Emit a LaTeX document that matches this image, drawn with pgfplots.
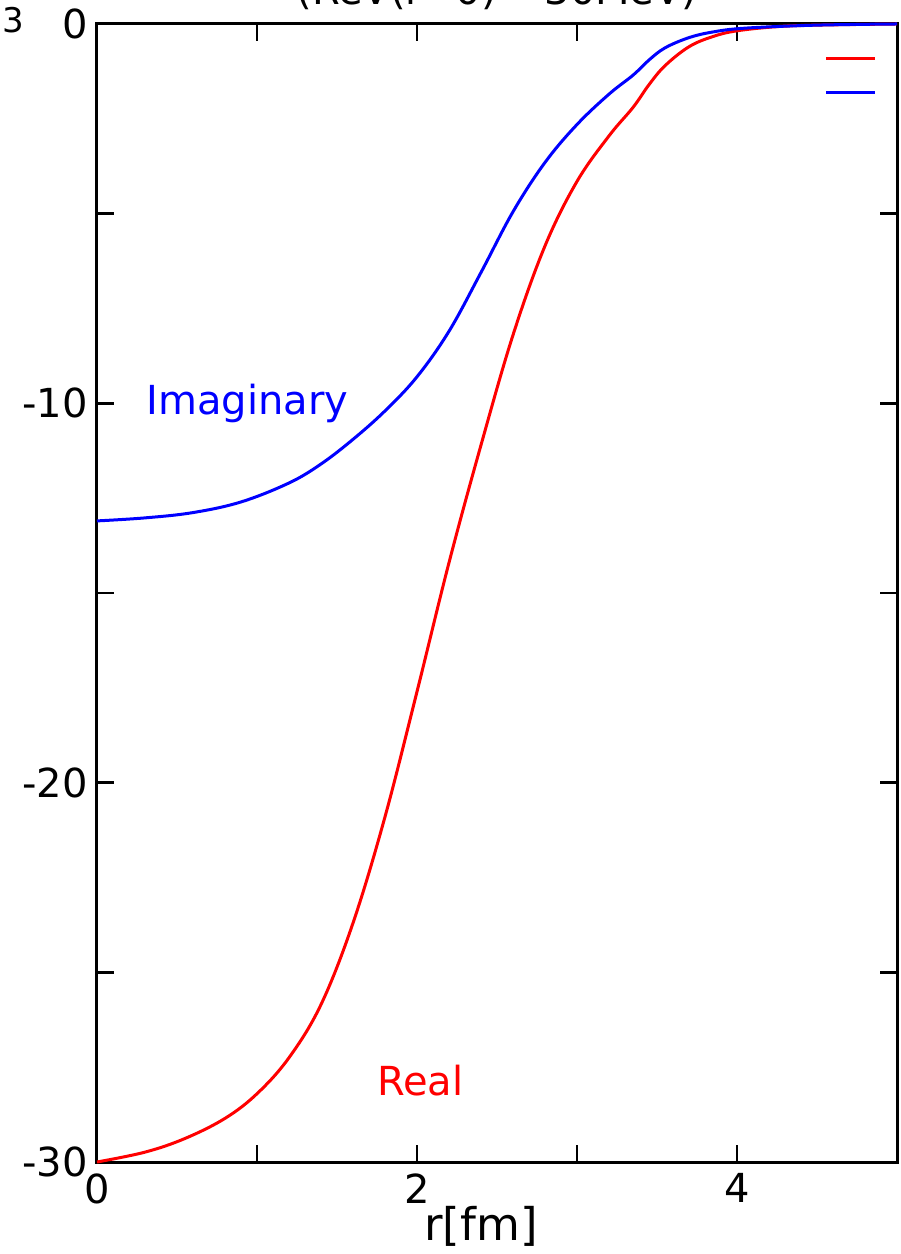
\documentclass[border=0pt]{standalone}
\usepackage{pgfplots}
\pgfplotsset{compat=1.18}
\usepackage{fontspec}
\setmainfont{DejaVu Sans}
\begin{document}
\begin{tikzpicture}
\begin{axis}[
  name=ax,
  scale only axis,
  width=400pt, height=569pt,
  xmin=0, xmax=5, ymin=-30, ymax=0,
  clip=false,
  axis line style={line width=1.5pt},
  every tick/.style={black, line width=1.3pt},
  major tick length=8.5pt,
  tick align=inside,
  xtick={0,1,2,3,4,5},
  xticklabels={0,,2,,4,},
  ytick={-30,-25,-20,-15,-10,-5,0},
  yticklabels={-30,,-20,,-10,,0},
  tick label style={font=\fontsize{20}{24}\selectfont, inner sep=0pt},
  xticklabel style={yshift=-5.5pt},
  yticklabel style={xshift=-4.5pt},
  xlabel={r[fm]},
  xlabel style={font=\fontsize{22.5}{27}\selectfont, at={(axis description cs:0.48,0)}, anchor=base, yshift=-39pt},
  legend style={at={(0.9775,0.985)}, anchor=north east, draw=none, fill=none, inner sep=0pt, row sep=0pt,
    nodes={inner sep=0pt, minimum height=17pt}},
  legend image code/.code={\draw[#1, line width=1.5pt] (0pt,0pt) -- (24.5pt,0pt);},
]
\addplot[red, line width=1.5pt, smooth, tension=0.6] coordinates {
(0,-30.0) (0.3,-29.74) (0.55,-29.38) (0.8,-28.85) (1.0,-28.2) (1.2,-27.25) (1.4,-25.85)
(1.6,-23.7) (1.8,-20.9) (2.0,-17.6) (2.2,-14.2) (2.4,-11.1) (2.6,-8.2) (2.8,-5.85)
(3.0,-4.15) (3.2,-2.95) (3.35,-2.2) (3.45,-1.6) (3.55,-1.1) (3.7,-0.6) (3.85,-0.33)
(4.0,-0.18) (4.25,-0.07) (4.5,-0.03) (5.0,0.0)
};
\addlegendentry{\mbox{}}
\addplot[blue, line width=1.5pt, smooth, tension=0.6] coordinates {
(0,-13.1) (0.3,-13.02) (0.6,-12.88) (0.9,-12.6) (1.2,-12.1) (1.4,-11.6) (1.6,-10.95)
(1.8,-10.2) (2.0,-9.3) (2.2,-8.1) (2.4,-6.55) (2.6,-4.95) (2.8,-3.65) (3.0,-2.65)
(3.2,-1.85) (3.35,-1.35) (3.45,-0.95) (3.55,-0.63) (3.7,-0.36) (3.85,-0.21) (4.05,-0.11)
(4.5,-0.03) (5.0,0.0)
};
\addlegendentry{\mbox{}}
\node[blue, font=\fontsize{20}{24}\selectfont] at (axis cs:0.94,-10.0) {Imaginary};
\node[red, font=\fontsize{20}{24}\selectfont] at (axis cs:2.02,-27.85) {Real};
\end{axis}
\node[anchor=base, font=\fontsize{20}{24}\selectfont] at ([yshift=9.5pt]ax.north) {(ReV(r=0)=-30MeV)};
\node[font=\fontsize{17}{20}\selectfont] at ([xshift=-42pt,yshift=2pt]ax.north west) {3};
\pgfresetboundingbox
\path[use as bounding box] ([xshift=-48.5pt,yshift=-46pt]ax.south west) rectangle ([xshift=2pt,yshift=12pt]ax.north east);
\end{tikzpicture}
\end{document}
